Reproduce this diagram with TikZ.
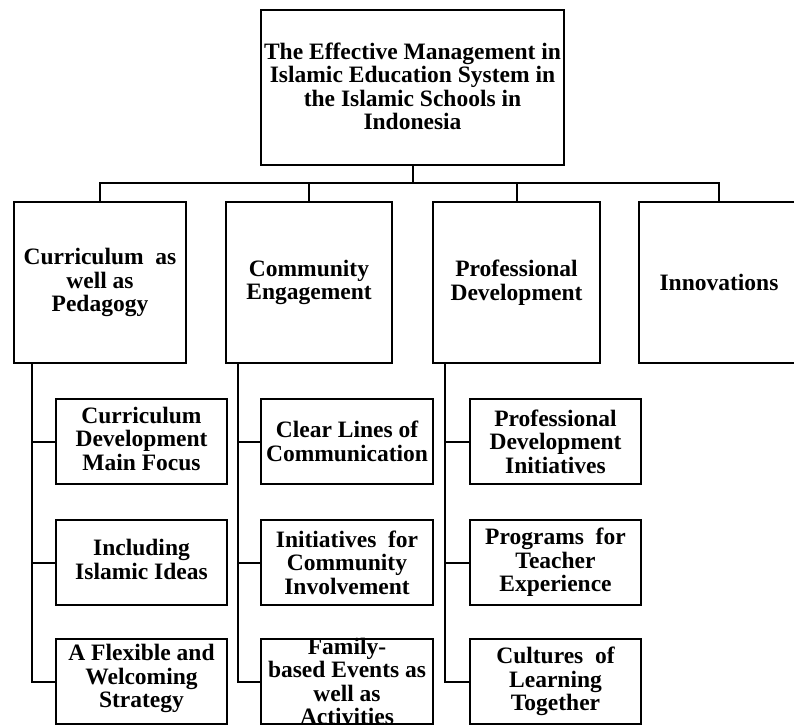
\documentclass[tikz,border=0pt]{standalone}
\usepackage{fontspec}
\newfontfamily\boxfont{Liberation Serif}
\begin{document}
\begin{tikzpicture}[x=1pt,y=-1pt,
  box/.style={draw=black, line width=2pt, rectangle, inner sep=0pt, fill=white},
  txt/.style={font=\boxfont\bfseries\fontsize{23.5}{23.5}\selectfont, align=center, inner sep=0pt},
  uptxt/.style={txt, yshift=3pt},
  topbox/.style={box, minimum width=303pt, minimum height=155pt},
  mainbox/.style={box, minimum height=161pt},
  subbox/.style={box, minimum width=171pt, minimum height=85pt},
  wire/.style={line width=2pt, line cap=rect}
]
\clip (0,0) rectangle (794,724);
\fill[white] (0,0) rectangle (794,724);

% root
\node[topbox, label={[txt, yshift=1pt]center:{The Effective Management in\\Islamic Education System in\\the Islamic Schools in\\Indonesia}}] (root) at (412.5,87.5) {};

% first level
\node[mainbox, minimum width=172pt, label={[txt]center:{Curriculum~~as\\well as\\Pedagogy}}] (cp) at (100,282.5) {};
\node[mainbox, minimum width=166pt, label={[txt]center:{Community\\Engagement}}] (ce) at (309,282.5) {};
\node[mainbox, minimum width=167pt, label={[txt]center:{Professional\\Development}}] (pd) at (516.5,282.5) {};
\node[mainbox, minimum width=160pt, label={[txt]center:{Innovations}}] (in) at (719,282.5) {};

% second level: curriculum and pedagogy
\node[subbox, label={[uptxt]center:{Curriculum\\Development\\Main Focus}}] (cp1) at (141.5,441.5) {};
\node[subbox, label={[uptxt]center:{Including\\Islamic Ideas}}] (cp2) at (141.5,562.5) {};
\node[subbox, label={[uptxt]center:{A Flexible and\\Welcoming\\Strategy}}] (cp3) at (141.5,681.5) {};

% second level: community engagement
\node[subbox, minimum width=172pt, label={[txt]center:{Clear Lines of\\Communication}}] (ce1) at (347,441.5) {};
\node[subbox, minimum width=172pt, label={[txt]center:{Initiatives~~for\\Community\\Involvement}}] (ce2) at (347,562.5) {};
\node[subbox, minimum width=172pt, label={[txt]center:{Family-\\based Events as\\well as\\Activities}}] (ce3) at (347,681.5) {};

% second level: professional development
\node[subbox, label={[txt]center:{Professional\\Development\\Initiatives}}] (pd1) at (555.5,441.5) {};
\node[subbox, label={[txt]center:{Programs~~for\\Teacher\\Experience}}] (pd2) at (555.5,562.5) {};
\node[subbox, label={[txt]center:{Cultures~~of\\Learning\\Together}}] (pd3) at (555.5,681.5) {};

% bus under the root
\coordinate (bus) at (0,183);
\draw[wire] (root.south) -- (root.south |- bus);
\draw[wire] (cp.north) -- (cp.north |- bus) -- (in.north |- bus) -- (in.north);
\draw[wire] (ce.north) -- (ce.north |- bus);
\draw[wire] (pd.north) -- (pd.north |- bus);

% trunks to the second level
\coordinate (t1) at (32,363);
\coordinate (t2) at (238,363);
\coordinate (t3) at (445,363);
\draw[wire] (t1) |- (cp3.west);
\draw[wire] (t1 |- cp1.west) -- (cp1.west);
\draw[wire] (t1 |- cp2.west) -- (cp2.west);
\draw[wire] (t2) |- (ce3.west);
\draw[wire] (t2 |- ce1.west) -- (ce1.west);
\draw[wire] (t2 |- ce2.west) -- (ce2.west);
\draw[wire] (t3) |- (pd3.west);
\draw[wire] (t3 |- pd1.west) -- (pd1.west);
\draw[wire] (t3 |- pd2.west) -- (pd2.west);
\end{tikzpicture}
\end{document}
